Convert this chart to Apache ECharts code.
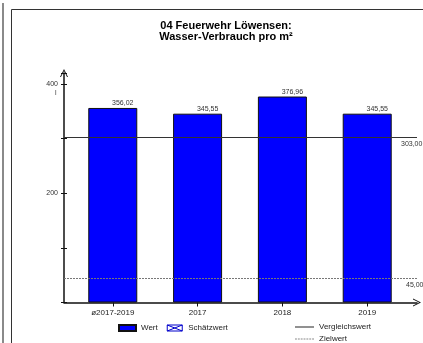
<!DOCTYPE html>
<html>
<head>
<meta charset="utf-8">
<script src="https://cdn.jsdelivr.net/npm/echarts@6/dist/echarts.min.js"></script>
<style>
  html, body { margin: 0; padding: 0; background: #fff; }
  #divChart { width: 423px; height: 343px; }
</style>
</head>
<body>
<div id="divChart"></div>
<script>
// Werte
var arrCategories = ['ø2017-2019', '2017', '2018', '2019'];
var arrWert = [356.02, 345.55, 376.96, 345.55];
var arrSchaetz = [];
var numVergleich = 303.00;
var numZiel = 45.00;
var arrYLabels = [400, 200];

var strFont = 'Liberation Sans, Arial, sans-serif';
var chartMain = echarts.init(document.getElementById('divChart'));

function FmtNum(v) {
    return v.toFixed(2).replace('.', ',');
};

var arrBarData = [];
for (var intI = 0; intI < arrWert.length; intI++) {
    arrBarData.push([intI, arrWert[intI]]);
};

var strArrow = 'path://M0,10 L5,0 L10,10 L8.8,10 L5,2.4 L1.2,10 Z';
var strDash = 'path://M0,0H2V1H0Z M3,0H5V1H3Z M6,0H8V1H6Z M9,0H11V1H9Z M12,0H14V1H12Z M15,0H17V1H15Z M18,0H20V1H18Z';

var optMain = {
    animation: false,
    title: {
        text: '04 Feuerwehr Löwensen:\nWasser-Verbrauch pro m²',
        left: 226,
        top: 20,
        textAlign: 'center',
        padding: 0,
        textStyle: { fontFamily: strFont, fontSize: 11, fontWeight: 'bold', lineHeight: 11, color: '#000' }
    },
    graphic: [
        { type: 'line', shape: { x1: 3, y1: 3, x2: 3, y2: 343 }, style: { stroke: '#8a8a8a', lineWidth: 2 } },
        { type: 'line', shape: { x1: 11.5, y1: 9.5, x2: 11.5, y2: 343 }, style: { stroke: '#333', lineWidth: 1 } },
        { type: 'line', shape: { x1: 11.5, y1: 9.5, x2: 423, y2: 9.5 }, style: { stroke: '#333', lineWidth: 1 } },
        { type: 'text', left: 55, top: 90, style: { text: 'l', fontFamily: strFont, fontSize: 7, fill: '#444' } }
    ],
    legend: [{
        data: [
            { name: 'Wert', icon: 'rect' },
            {
                name: 'Schätzwert',
                icon: 'path://M0,0 H20 V8 H0 Z M0,0 L20,8 M20,0 L0,8',
                itemStyle: { color: '#fff', borderColor: '#0000cc', borderWidth: 1 }
            }
        ],
        left: 118,
        top: 324,
        padding: 0,
        itemWidth: 17,
        itemHeight: 6,
        itemGap: 9,
        textStyle: { fontFamily: strFont, fontSize: 8, color: '#222' }
    }, {
        data: [
            { name: 'Vergleichswert', icon: 'rect' },
            { name: 'Zielwert', icon: strDash }
        ],
        orient: 'vertical',
        left: 295,
        top: 323,
        height: 40,
        padding: 0,
        itemWidth: 19,
        itemHeight: 1,
        itemGap: 4,
        textStyle: { fontFamily: strFont, fontSize: 8, color: '#222' }
    }],
    grid: { left: 64, right: 6, top: 73, bottom: 40.5 },
    xAxis: {
        type: 'value',
        min: -0.575,
        max: 3.587,
        splitLine: { show: false },
        axisLine: {
            show: true,
            onZero: false,
            lineStyle: { color: '#111', width: 1.5 },
            symbol: ['none', strArrow],
            symbolSize: [8, 8]
        },
        axisTick: { show: true, length: 4, lineStyle: { color: '#111' }, customValues: [0, 1, 2, 3] },
        axisLabel: {
            customValues: [0, 1, 2, 3],
            margin: 6,
            fontFamily: strFont,
            fontSize: 8,
            color: '#222',
            formatter: function(v) { return arrCategories[Math.round(v)]; }
        }
    },
    yAxis: [{
        type: 'value',
        position: 'left',
        min: 0,
        max: 420,
        interval: 100,
        splitLine: { show: false },
        axisLine: {
            show: true,
            onZero: false,
            lineStyle: { color: '#111', width: 1.5 },
            symbol: ['none', strArrow],
            symbolSize: [8, 8]
        },
        axisTick: { show: true, length: 3, lineStyle: { color: '#111' } },
        axisLabel: {
            margin: 6,
            fontFamily: strFont,
            fontSize: 7,
            color: '#333',
            formatter: function(v) { return arrYLabels.indexOf(v) >= 0 ? String(v) : ''; }
        }
    }, {
        type: 'value',
        position: 'left',
        min: 0,
        max: 420,
        interval: 100,
        splitLine: { show: false },
        axisLine: { show: false, onZero: false },
        axisTick: { show: true, inside: true, length: 3, lineStyle: { color: '#111' } },
        axisLabel: { show: false }
    }],
    series: [{
        name: 'Wert',
        type: 'bar',
        barWidth: 49,
        barGap: '-100%',
        data: arrBarData,
        itemStyle: { color: '#0000ff', borderColor: '#111', borderWidth: 1 },
        label: {
            show: true,
            position: 'top',
            offset: [10, 0],
            distance: 1,
            fontFamily: strFont,
            fontSize: 7,
            color: '#333',
            formatter: function(p) { return FmtNum(p.value[1]); }
        }
    }, {
        name: 'Schätzwert',
        type: 'bar',
        barWidth: 49,
        data: arrSchaetz,
        itemStyle: { color: '#fff', borderColor: '#0000cc', borderWidth: 1 }
    }, {
        name: 'Vergleichswert',
        type: 'line',
        symbol: 'none',
        data: [],
        color: '#222',
        lineStyle: { color: '#222', width: 1 },
        markLine: {
            silent: true,
            symbol: 'none',
            lineStyle: { color: '#333', width: 1, type: 'solid' },
            label: {
                position: 'end',
                distance: -16,
                verticalAlign: 'top',
                padding: [4, 0, 0, 0],
                fontFamily: strFont,
                fontSize: 7,
                color: '#333',
                formatter: function(p) { return FmtNum(p.value); }
            },
            data: [{ yAxis: numVergleich }]
        }
    }, {
        name: 'Zielwert',
        type: 'line',
        symbol: 'none',
        data: [],
        color: '#888',
        lineStyle: { color: '#888', width: 1, type: [2, 1] },
        markLine: {
            silent: true,
            symbol: 'none',
            lineStyle: { color: '#777', width: 1, type: [2, 1] },
            label: {
                position: 'end',
                distance: -11,
                verticalAlign: 'top',
                padding: [4, 0, 0, 0],
                fontFamily: strFont,
                fontSize: 7,
                color: '#333',
                formatter: function(p) { return FmtNum(p.value); }
            },
            data: [{ yAxis: numZiel }]
        }
    }]
};
chartMain.setOption(optMain);
</script>
</body>
</html>
